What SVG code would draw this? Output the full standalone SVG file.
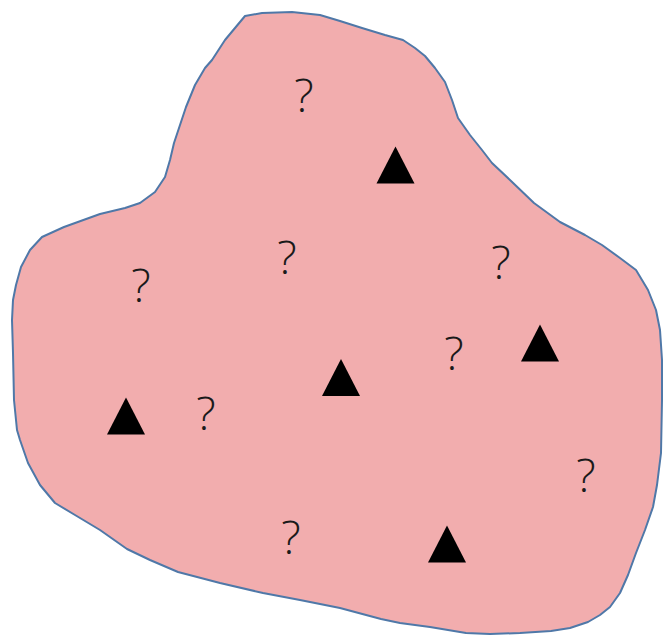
<svg xmlns="http://www.w3.org/2000/svg" xmlns:xlink="http://www.w3.org/1999/xlink" width="664" height="637" viewBox="0 0 664 637">
  <style>
    .blob { fill: #f2adae; stroke: #4f78a8; stroke-width: 2; stroke-linejoin: round; }
    .tri { fill: #000000; }
    .q { font-family: "Open Sans", "Liberation Sans", Arial, sans-serif; font-size: 46px; font-weight: 300; fill: #1a1a1a; text-anchor: middle; }
  </style>
  <defs>
    <path id="triangle" d="M0,-18.5 L19,18.5 L-19,18.5 Z"/>
  </defs>
  <rect width="664" height="637" fill="#ffffff"/>
  <g id="region">
    <path class="blob" d="M245,16 L262,13 L292,12 L320,15 L340,21 L362,28 L385,35 L403,40 L415,48 L425,56 L435,68 L445,82 L452,100 L458,118 L470,135 L482,150 L492,163 L510,180 L534,203 L560,222 L585,235 L602,245 L620,258 L636,270 L648,290 L656,310 L660,330 L662,360 L662,400 L661,453 L657,485 L653,507 L645,530 L636,553 L628,575 L620,593 L610,607 L600,615 L588,622 L570,628 L551,631 L520,633 L490,634 L466,633 L430,627 L400,623 L381,619 L340,608 L300,600 L263,593 L220,583 L178,572 L150,560 L127,549 L100,530 L75,515 L55,503 L40,485 L28,463 L20,440 L17,430 L14,400 L13,353 L12,320 L13,300 L16,285 L21,267 L30,250 L42,237 L64,227 L100,214 L125,208 L140,203 L155,192 L165,177 L170,160 L174,143 L180,125 L186,107 L195,85 L205,68 L212,60 L225,40 L235,28 Z"/>
  </g>
  <g id="triangle1"><use class="tri" xlink:href="#triangle" x="395.5" y="165"/></g>
  <g id="triangle2"><use class="tri" xlink:href="#triangle" x="341" y="377.5"/></g>
  <g id="triangle3"><use class="tri" xlink:href="#triangle" x="540" y="343"/></g>
  <g id="triangle4"><use class="tri" xlink:href="#triangle" x="126" y="416"/></g>
  <g id="triangle5"><use class="tri" xlink:href="#triangle" x="447" y="544"/></g>
  <g id="q1"><text class="q" x="304" y="112">?</text></g>
  <g id="q2"><text class="q" x="287" y="274">?</text></g>
  <g id="q3"><text class="q" x="501" y="279">?</text></g>
  <g id="q4"><text class="q" x="141" y="302">?</text></g>
  <g id="q5"><text class="q" x="454" y="370">?</text></g>
  <g id="q6"><text class="q" x="206" y="430">?</text></g>
  <g id="q7"><text class="q" x="586" y="492">?</text></g>
  <g id="q8"><text class="q" x="291" y="554">?</text></g>
</svg>
